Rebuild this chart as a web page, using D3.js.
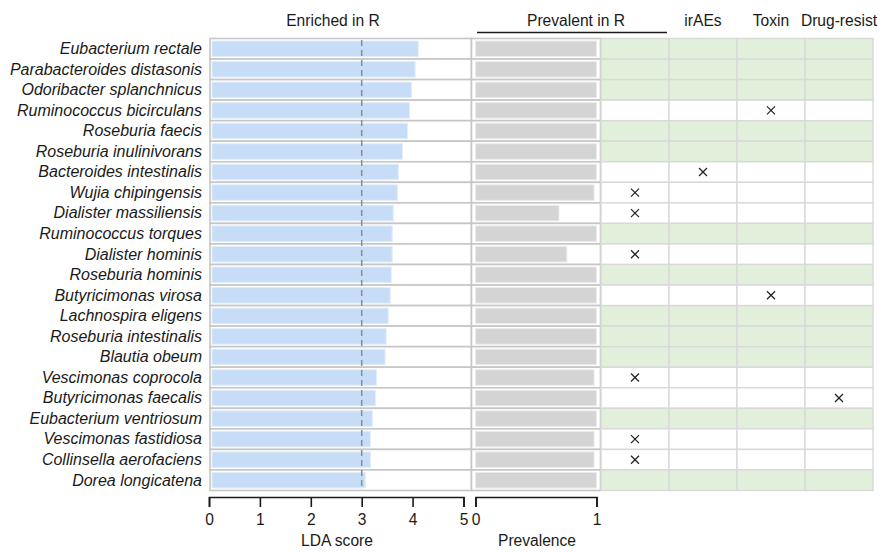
<!DOCTYPE html>
<html>
<head>
<meta charset="utf-8">
<script src="https://cdn.jsdelivr.net/npm/d3@7"></script>
<style>
  body { margin: 0; background: #fff; }
  text { font-family: Arial, "Liberation Sans", sans-serif; fill: #1a1a1a; }
</style>
</head>
<body>
<div id="chart"></div>
<script>
const species = [
    "Eubacterium rectale", "Parabacteroides distasonis", "Odoribacter splanchnicus",
    "Ruminococcus bicirculans", "Roseburia faecis", "Roseburia inulinivorans",
    "Bacteroides intestinalis", "Wujia chipingensis", "Dialister massiliensis",
    "Ruminococcus torques", "Dialister hominis", "Roseburia hominis",
    "Butyricimonas virosa", "Lachnospira eligens", "Roseburia intestinalis",
    "Blautia obeum", "Vescimonas coprocola", "Butyricimonas faecalis",
    "Eubacterium ventriosum", "Vescimonas fastidiosa", "Collinsella aerofaciens",
    "Dorea longicatena"
];
const ldaScore = [4.11, 4.05, 3.98, 3.94, 3.90, 3.80, 3.72, 3.70, 3.62, 3.60, 3.60,
    3.58, 3.56, 3.52, 3.48, 3.46, 3.29, 3.27, 3.21, 3.17, 3.17, 3.07];
const prevalence = [1, 1, 1, 1, 1, 1, 1, 0.98, 0.69, 1, 0.755,
    1, 1, 1, 1, 1, 0.98, 1, 1, 0.98, 0.98, 1];
// 1 = marked with a cross
const notPrevalent = [0,0,0,0,0,0,0,1,1,0,1,0,0,0,0,0,1,0,0,1,1,0];
const irAEs       = [0,0,0,0,0,0,1,0,0,0,0,0,0,0,0,0,0,0,0,0,0,0];
const toxin       = [0,0,0,1,0,0,0,0,0,0,0,0,1,0,0,0,0,0,0,0,0,0];
const drugResist  = [0,0,0,0,0,0,0,0,0,0,0,0,0,0,0,0,0,1,0,0,0,0];
const flagColumns = ["", "irAEs", "Toxin", "Drug-resist"];
const ldaTicks = [0, 1, 2, 3, 4, 5];
const prevTicks = [0, 1];
const threshold = 3;

const width = 883, height = 552;
const svg = d3.select("#chart").append("svg")
    .attr("width", width).attr("height", height);

const flags = [notPrevalent, irAEs, toxin, drugResist];
const rows = species.map((s, i) => ({
    name: s, lda: ldaScore[i], prev: prevalence[i],
    flags: flags.map(f => f[i])
}));

const y = d3.scaleBand().domain(species).range([38.5, 490.5]).padding(0);
const xL = d3.scaleLinear().domain([0, 5]).range([209, 463.5]);
const xP = d3.scaleLinear().domain([0, 1]).range([475.5, 596.5]);
const xC = d3.scaleBand().domain(d3.range(4)).range([601, 873]);

/* panel 1: LDA */
const p1 = svg.append("g");
p1.selectAll("rect.cell").data(rows).enter().append("rect")
    .attr("class", "cell")
    .attr("x", 210).attr("width", 261.5)
    .attr("y", d => y(d.name)).attr("height", y.bandwidth())
    .attr("fill", "#fff").attr("stroke", "#c6c6c6").attr("stroke-width", 1.6);
p1.selectAll("rect.bar").data(rows).enter().append("rect")
    .attr("class", "bar")
    .attr("x", xL(0) + 3).attr("width", d => xL(d.lda) - xL(0) - 3)
    .attr("y", d => y(d.name) + 2.5).attr("height", y.bandwidth() - 5)
    .attr("fill", "#c7ddf7").attr("stroke", "#e2edfa").attr("stroke-width", 1);
p1.append("line")
    .attr("x1", xL(threshold)).attr("x2", xL(threshold))
    .attr("y1", 40).attr("y2", 489)
    .attr("stroke", "#8c8c8c").attr("stroke-width", 1.5)
    .attr("stroke-dasharray", "6,4");

/* panel 2: prevalence */
const p2 = svg.append("g");
p2.selectAll("rect.cell").data(rows).enter().append("rect")
    .attr("class", "cell")
    .attr("x", 471.5).attr("width", 129)
    .attr("y", d => y(d.name)).attr("height", y.bandwidth())
    .attr("fill", "#fff").attr("stroke", "#c6c6c6").attr("stroke-width", 1.6);
p2.selectAll("rect.bar").data(rows).enter().append("rect")
    .attr("class", "bar")
    .attr("x", xP(0)).attr("width", d => xP(d.prev) - xP(0))
    .attr("y", d => y(d.name) + 2.5).attr("height", y.bandwidth() - 5)
    .attr("fill", "#d4d4d4").attr("stroke", "#ececec").attr("stroke-width", 1);

/* flag grid */
const cells = [];
rows.forEach(r => {
    const clean = r.flags.every(f => f === 0);
    r.flags.forEach((f, j) => cells.push({name: r.name, col: j, mark: f, clean: clean}));
});
const p3 = svg.append("g");
p3.selectAll("rect").data(cells).enter().append("rect")
    .attr("x", d => xC(d.col)).attr("width", xC.bandwidth())
    .attr("y", d => y(d.name)).attr("height", y.bandwidth())
    .attr("fill", d => d.clean ? "#e2efda" : "#fff")
    .attr("stroke", "#d9d9d9").attr("stroke-width", 1.4);
const crosses = p3.selectAll("g.x").data(cells.filter(d => d.mark)).enter().append("g")
    .attr("class", "x")
    .attr("transform", d => `translate(${xC(d.col) + xC.bandwidth() / 2},${y(d.name) + y.bandwidth() / 2})`);
crosses.append("line").attr("x1", -4).attr("y1", -4).attr("x2", 4).attr("y2", 4);
crosses.append("line").attr("x1", -4).attr("y1", 4).attr("x2", 4).attr("y2", -4);
crosses.selectAll("line").attr("stroke", "#222").attr("stroke-width", 1.3);

/* species labels */
svg.append("g").selectAll("text").data(rows).enter().append("text")
    .attr("x", 202)
    .attr("y", d => y(d.name) + y.bandwidth() / 2)
    .attr("dy", "0.33em")
    .attr("text-anchor", "end")
    .attr("font-size", 16)
    .attr("font-style", "italic")
    .text(d => d.name);

/* headers */
svg.append("text").attr("x", 333).attr("y", 26).attr("text-anchor", "middle")
    .attr("font-size", 15.6).text("Enriched in R");
svg.append("text").attr("x", 576).attr("y", 26).attr("text-anchor", "middle")
    .attr("font-size", 15.6).text("Prevalent in R");
svg.append("line").attr("x1", 477).attr("x2", 667).attr("y1", 32.5).attr("y2", 32.5)
    .attr("stroke", "#1a1a1a").attr("stroke-width", 1.6);
svg.append("g").selectAll("text").data(flagColumns).enter().append("text")
    .attr("x", (d, i) => xC(i) + xC.bandwidth() / 2)
    .attr("y", 26)
    .attr("text-anchor", "middle")
    .attr("font-size", 15.6)
    .text(d => d);

/* axes */
const axL = svg.append("g")
    .attr("transform", "translate(0,497)")
    .call(d3.axisBottom(xL).tickValues(ldaTicks).tickFormat(d3.format("d")).tickSize(10).tickPadding(7));
const axP = svg.append("g")
    .attr("transform", "translate(0,497)")
    .call(d3.axisBottom(xP).tickValues(prevTicks).tickFormat(d3.format("d")).tickSize(10).tickPadding(7));
[axL, axP].forEach(ax => {
    ax.selectAll("path").attr("stroke", "#1a1a1a").attr("stroke-width", 1.6);
    ax.selectAll("line").attr("stroke", "#1a1a1a").attr("stroke-width", 1.6);
    ax.selectAll("text").attr("font-size", 15.6)
        .attr("font-family", "Arial, 'Liberation Sans', sans-serif").attr("fill", "#1a1a1a");
});
svg.append("text").attr("x", 337).attr("y", 546).attr("text-anchor", "middle")
    .attr("font-size", 15.6).text("LDA score");
svg.append("text").attr("x", 537).attr("y", 546).attr("text-anchor", "middle")
    .attr("font-size", 15.6).text("Prevalence");
</script>
</body>
</html>
